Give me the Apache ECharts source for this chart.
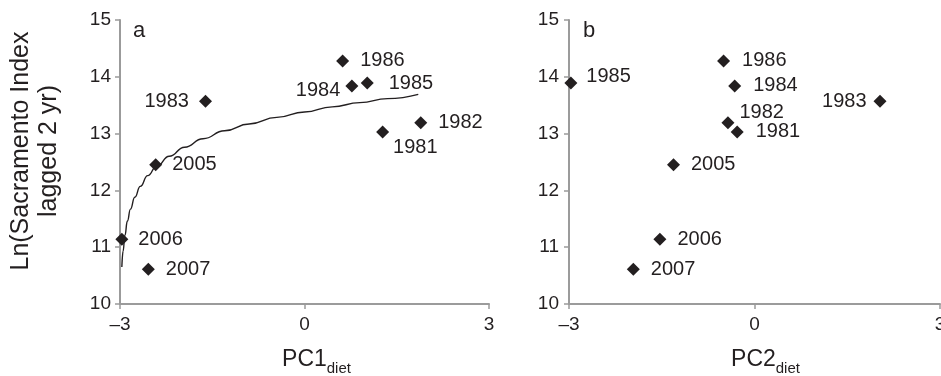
<!DOCTYPE html>
<html>
<head>
<meta charset="utf-8">
<script src="https://cdn.jsdelivr.net/npm/echarts@6/dist/echarts.min.js"></script>
<style>html,body{margin:0;padding:0;background:#fff}#c{width:941px;height:376px}</style>
</head>
<body>
<div id="c"></div>
<script>
// ---- data ----
var years = ['1981','1982','1983','1984','1985','1986','2005','2006','2007'];
var pc1Diet = [1.27, 1.89, -1.61, 0.77, 1.02, 0.62, -2.42, -2.97, -2.54];
var pc2Diet = [-0.28, -0.43, 2.03, -0.32, -2.97, -0.50, -1.31, -1.53, -1.96];
var lnSacramento = [13.03, 13.19, 13.57, 13.84, 13.89, 14.28, 12.45, 11.14, 10.61];
// fitted (log) trend line in panel a
var fitX = [-2.97, -2.95, -2.92, -2.88, -2.83, -2.76, -2.67, -2.55, -2.40, -2.20, -1.95, -1.65, -1.30, -0.90, -0.45, 0.00, 0.45, 0.90, 1.35, 1.85];
var fitY = [10.65, 10.93, 11.21, 11.46, 11.67, 11.88, 12.07, 12.26, 12.43, 12.60, 12.76, 12.91, 13.05, 13.17, 13.285, 13.38, 13.47, 13.545, 13.615, 13.69];
var xTicks = [-3, 0, 3];
var yTicks = [10, 11, 12, 13, 14, 15];

// ---- label placement (style only) ----
var labA = {
  '1981': {position: 'right', distance: 4, offset: [0, 16]},
  '1982': {position: 'right', distance: 11},
  '1983': {position: 'left', distance: 10},
  '1984': {position: 'left', distance: 5, offset: [0, 5]},
  '1985': {position: 'right', distance: 15},
  '1986': {position: 'right', distance: 11},
  '2005': {position: 'right', distance: 10},
  '2006': {position: 'right', distance: 10},
  '2007': {position: 'right', distance: 11}
};
var labB = {
  '1981': {position: 'right', distance: 12},
  '1982': {position: 'right', distance: 5, offset: [0, -10]},
  '1983': {position: 'left', distance: 7},
  '1984': {position: 'right', distance: 12},
  '1985': {position: 'right', distance: 9, offset: [0, -7]},
  '1986': {position: 'right', distance: 12},
  '2005': {position: 'right', distance: 11},
  '2006': {position: 'right', distance: 11},
  '2007': {position: 'right', distance: 11}
};

var INK = '#231f20';
var AX = '#9b9b9b';
var FONT = '"Liberation Sans", Arial, Helvetica, sans-serif';

function pts(xs, ys, lab) {
  return years.map(function (y, i) {
    var l = lab[y];
    return {
      value: [xs[i], ys[i]],
      label: Object.assign({show: true, formatter: y}, l)
    };
  });
}
function xAxisCfg(idx, sub, padL) {
  return {
    type: 'value', gridIndex: idx, min: xTicks[0], max: xTicks[xTicks.length - 1], interval: 3,
    axisLine: {show: true, onZero: false, lineStyle: {color: AX, width: 2}},
    axisTick: {show: true, length: 5, lineStyle: {color: AX, width: 1.5}},
    splitLine: {show: false},
    axisLabel: {color: INK, fontSize: 19, fontFamily: FONT, margin: 11,
      formatter: function (v) { return String(v).replace('-', '\u2013'); }},
    name: '{m|PC' + sub + '}{s|diet}',
    nameLocation: 'middle', nameGap: 44,
    nameTextStyle: {
      padding: [0, 0, 0, padL],
      rich: {
        m: {fontSize: 23, fontFamily: FONT, color: INK, lineHeight: 26, verticalAlign: 'top'},
        s: {fontSize: 15, fontFamily: FONT, color: INK, lineHeight: 16, verticalAlign: 'top', padding: [13, 0, 0, 0]}
      }
    }
  };
}
function yAxisCfg(idx, margin) {
  return {
    type: 'value', gridIndex: idx, min: yTicks[0], max: yTicks[yTicks.length - 1], interval: 1,
    axisLine: {show: true, onZero: false, lineStyle: {color: AX, width: 2}},
    axisTick: {show: true, length: 5, lineStyle: {color: AX, width: 1.5}},
    splitLine: {show: false},
    axisLabel: {color: INK, fontSize: 19, fontFamily: FONT, margin: margin}
  };
}
var scatterBase = {
  type: 'scatter', symbol: 'diamond', symbolSize: 13,
  itemStyle: {color: INK, opacity: 1},
  label: {color: INK, fontSize: 20, fontFamily: FONT},
  z: 3
};

var chart = echarts.init(document.getElementById('c'), null, {renderer: 'canvas'});
chart.setOption({
  backgroundColor: '#fff',
  animation: false,
  grid: [
    {left: 120, top: 20, width: 369, height: 284, containLabel: false, outerBoundsMode: 'none'},
    {left: 569, top: 20, right: 1, height: 284, containLabel: false, outerBoundsMode: 'none'}
  ],
  xAxis: [xAxisCfg(0, '1', 24), xAxisCfg(1, '2', 22)],
  yAxis: [yAxisCfg(0, 9), yAxisCfg(1, 10)],
  graphic: [
    {type: 'text', left: 133, top: 20, style: {text: 'a', font: '22px ' + FONT, fill: INK}},
    {type: 'text', left: 583, top: 20, style: {text: 'b', font: '22px ' + FONT, fill: INK}},
    {type: 'text', x: 35, y: 151, rotation: Math.PI / 2,
      style: {text: 'Ln(Sacramento Index\nlagged 2 yr)', font: '25px ' + FONT, fill: INK,
        align: 'center', verticalAlign: 'middle', lineHeight: 28}}
  ],
  series: [
    {
      type: 'line', xAxisIndex: 0, yAxisIndex: 0,
      data: fitX.map(function (x, i) { return [x, fitY[i]]; }),
      showSymbol: false, smooth: 0.5, smoothMonotone: 'x',
      lineStyle: {color: INK, width: 1.4}, z: 2
    },
    Object.assign({}, scatterBase, {xAxisIndex: 0, yAxisIndex: 0, data: pts(pc1Diet, lnSacramento, labA)}),
    Object.assign({}, scatterBase, {xAxisIndex: 1, yAxisIndex: 1, data: pts(pc2Diet, lnSacramento, labB)})
  ]
});
</script>
</body>
</html>
